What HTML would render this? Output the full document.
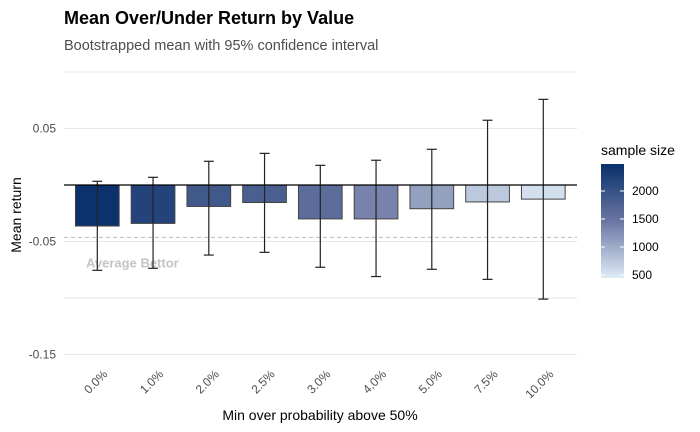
<!DOCTYPE html>
<html><head><meta charset="utf-8"><style>
body{margin:0;background:#fff;}
svg{font-family:"Liberation Sans",Arial,sans-serif;display:block}
</style></head><body>
<svg id="chart" width="700" height="432" viewBox="0 0 700 432">
<text x="64" y="24" font-size="18" font-weight="bold" fill="#000">Mean Over/Under Return by Value</text>
<text x="64" y="50" font-size="14.5" fill="#4d4d4d">Bootstrapped mean with 95% confidence interval</text>
<g id="grid"></g>
<g id="yticks"></g>
<g id="bars"></g>
<g id="xticks"></g>
<text x="320" y="420" font-size="14" text-anchor="middle" fill="#000">Min over probability above 50%</text>
<text transform="translate(21,215) rotate(-90)" font-size="14" text-anchor="middle" fill="#000">Mean return</text>
<g>
<text x="601" y="155" font-size="14" fill="#000">sample size</text>
<defs><linearGradient id="lg" x1="0" y1="0" x2="0" y2="1"><stop offset="0" stop-color="#08306b"/><stop offset="0.5" stop-color="#6a76a2"/><stop offset="1" stop-color="#deebf7"/></linearGradient></defs>
<rect x="601" y="164" width="23" height="114" fill="url(#lg)"/>
<g id="legticks"></g>
</g>
</svg>
<script>
const categories=["0.0%","1.0%","2.0%","2.5%","3.0%","4.0%","5.0%","7.5%","10.0%"];
const means=[-0.0363,-0.034,-0.019,-0.0155,-0.030,-0.030,-0.021,-0.015,-0.0125];
const lower=[-0.0755,-0.0737,-0.062,-0.0596,-0.0728,-0.081,-0.0746,-0.0835,-0.101];
const upper=[0.0033,0.0068,0.021,0.028,0.0174,0.0219,0.0316,0.0573,0.0758];
const sampleSizes=[2450,2200,1900,1800,1600,1350,1100,750,550];
const yTicks=[0.05,-0.05,-0.15];
const yTickLabels=["0.05","-0.05","-0.15"];
const gridVals=[0.1,0.05,-0.05,-0.1,-0.15];
const averageBettor=-0.0463;
const legendVals=[2000,1500,1000,500];
const NS="http://www.w3.org/2000/svg";
const x0=64,x1=577,step=55.75,first=97.3;
const y=v=>185-v*1130;
const xc=i=>first+step*i;
const smin=446,smax=2482;
const c0=[8,48,107],cm=[106,118,162],c1=[222,235,247];
function col(s){let t=(smax-s)/(smax-smin);let a=c0,b=cm;if(t>0.5){a=cm;b=c1;t=(t-0.5)*2;}else t=t*2;
return "rgb("+a.map((v,k)=>Math.round(v+(b[k]-v)*t)).join(",")+")";}
function mk(tag,attrs,parent){const e=document.createElementNS(NS,tag);for(const k in attrs)e.setAttribute(k,attrs[k]);parent.appendChild(e);return e;}
const grid=document.getElementById('grid');
gridVals.forEach(v=>{const l=mk('line',{x1:x0,x2:x1,y1:y(v),y2:y(v),stroke:'#e6e6e6','stroke-width':1},grid);

});
const yt=document.getElementById('yticks');
yTicks.forEach((v,i)=>{const t=mk('text',{x:56,y:y(v)+4,'font-size':12,'text-anchor':'end',fill:'#4d4d4d'},yt);t.textContent=yTickLabels[i];

});
const bars=document.getElementById('bars');
const dl=mk('line',{x1:x0,x2:x1,y1:y(averageBettor),y2:y(averageBettor),stroke:'#bdbdbd','stroke-dasharray':'4,3'},bars);


const at=mk('text',{x:86,y:y(averageBettor)+30,'font-size':13,'font-weight':'bold',fill:'#c4c4c4'},bars);at.textContent="Average Bettor";


const bw=43.7;
categories.forEach((c,i)=>{
const top=Math.min(y(0),y(means[i])),h=Math.abs(y(means[i])-y(0));
const r=mk('rect',{x:xc(i)-bw/2,y:top,width:bw,height:h,fill:col(sampleSizes[i]),stroke:'#444','stroke-width':1},bars);


const g=mk('g',{stroke:'#222','stroke-width':1.2},bars);


mk('line',{x1:xc(i),x2:xc(i),y1:y(upper[i]),y2:y(lower[i])},g);
mk('line',{x1:xc(i)-5,x2:xc(i)+5,y1:y(upper[i]),y2:y(upper[i])},g);
mk('line',{x1:xc(i)-5,x2:xc(i)+5,y1:y(lower[i]),y2:y(lower[i])},g);
});
const zl=mk('line',{x1:x0,x2:x1,y1:y(0),y2:y(0),stroke:'#000','stroke-width':1.2},bars);


const xt=document.getElementById('xticks');
categories.forEach((c,i)=>{const t=mk('text',{transform:`translate(${xc(i)+11},375) rotate(-45)`,'font-size':12,'text-anchor':'end',fill:'#4d4d4d'},xt);t.textContent=c;

});
const lt=document.getElementById('legticks');
legendVals.forEach(v=>{const ly=278-(v-smin)*0.056;
mk('line',{x1:601,x2:605,y1:ly,y2:ly,stroke:'#fff'},lt);mk('line',{x1:620,x2:624,y1:ly,y2:ly,stroke:'#fff'},lt);
const t=mk('text',{x:632,y:ly+4,'font-size':12,fill:'#000'},lt);t.textContent=v;

});
</script>
</body></html>
